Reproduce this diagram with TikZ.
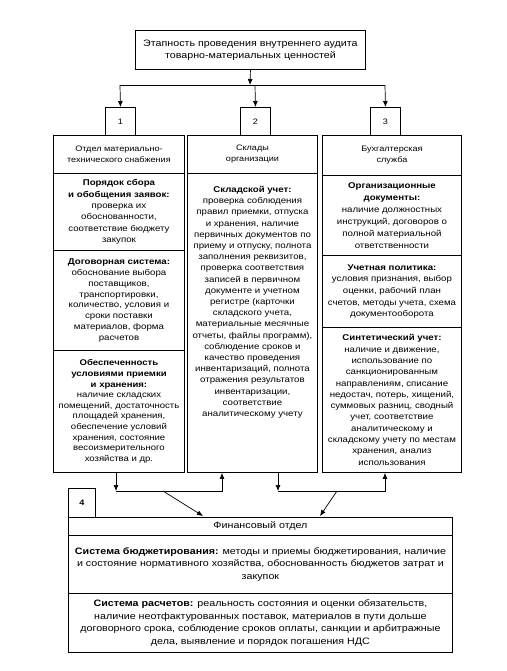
\documentclass[tikz,border=0pt]{standalone}
\usepackage{fontspec}
\setmainfont{Liberation Sans}[FakeStretch=1.15]
\usetikzlibrary{arrows.meta}
\begin{document}
\begin{tikzpicture}[x=1pt,y=1pt,
  box/.style={draw, line width=0.9pt, rectangle, anchor=north west, align=center, inner sep=1pt},
  hdrf/.style={font=\fontsize{7.9}{11}\selectfont},
  botf/.style={font=\fontsize{9.3}{12.6}\selectfont},
  arr/.style={line width=0.7pt, -{Latex[length=6pt,width=5pt]}},
  ln/.style={line width=0.7pt}]
\useasboundingbox (0,0) rectangle (506,-671);
\fill[white] (0,0) rectangle (506,-671);
% top box
\node[box, font=\fontsize{9.3}{11.8}\selectfont, minimum width=230, minimum height=39] (top) at (135,-30)
  {Этапность проведения внутреннего аудита\\товарно-материальных ценностей};
% number boxes
\node[box, hdrf, minimum width=30, minimum height=28] (n1) at (105,-107) {1};
\node[box, hdrf, minimum width=30, minimum height=28] (n2) at (240,-107) {2};
\node[box, hdrf, minimum width=30, minimum height=28] (n3) at (370,-107) {3};
% column 1
\node[box, hdrf, minimum width=131, minimum height=38] (c1h) at (53,-135)
  {Отдел материально-\\технического снабжения};
\node[box, font=\fontsize{8.4}{11.3}\selectfont, minimum width=131, minimum height=77] (c1a) at (53,-173)
  {\bfseries Порядок сбора\\\bfseries и обобщения заявок:\\\mdseries проверка их\\обоснованности,\\соответствие бюджету\\закупок};
\node[box, font=\fontsize{8.4}{10.9}\selectfont, minimum width=131, minimum height=100] (c1b) at (53,-250)
  {\bfseries Договорная система:\\\mdseries обоснование выбора\\поставщиков,\\транспортировки,\\количество, условия и\\сроки поставки\\материалов, форма\\расчетов};
\node[box, font=\fontsize{8.3}{10.6}\selectfont, minimum width=131, minimum height=122] (c1c) at (53,-350)
  {\bfseries Обеспеченность\\\bfseries условиями приемки\\\bfseries и хранения:\\\mdseries наличие складских\\помещений, достаточность\\площадей хранения,\\обеспечение условий\\хранения, состояние\\весоизмерительного\\хозяйства и др.};
% column 2
\node[box, hdrf, minimum width=130, minimum height=38] (c2h) at (187,-135)
  {Склады\\организации};
\node[box, minimum width=130, minimum height=299] (c2a) at (187,-173) {};
\node[font=\fontsize{8.4}{11.2}\selectfont, align=center, anchor=north, inner sep=0pt] (c2t) at ([yshift=-13]c2a.north)
  {\bfseries Складской учет:\\\mdseries проверка соблюдения\\правил приемки, отпуска\\и хранения, наличие\\первичных документов по\\приему и отпуску, полнота\\заполнения реквизитов,\\проверка соответствия\\записей в первичном\\документе и учетном\\регистре (карточки\\складского учета,\\материальные месячные\\отчеты, файлы программ),\\соблюдение сроков и\\качество проведения\\инвентаризаций, полнота\\отражения результатов\\инвентаризации,\\соответствие\\аналитическому учету};
% column 3
\node[box, hdrf, minimum width=139, minimum height=40] (c3h) at (322,-135)
  {Бухгалтерская\\служба};
\node[box, font=\fontsize{8.4}{12}\selectfont, minimum width=139, minimum height=80] (c3a) at (322,-175)
  {\bfseries Организационные\\\bfseries документы:\\\mdseries наличие должностных\\инструкций, договоров о\\полной материальной\\ответственности};
\node[box, font=\fontsize{8.4}{11.7}\selectfont, minimum width=139, minimum height=72] (c3b) at (322,-255)
  {\bfseries Учетная политика:\\\mdseries условия признания, выбор\\оценки, рабочий план\\счетов, методы учета, схема\\документооборота};
\node[box, font=\fontsize{8.4}{11.3}\selectfont, minimum width=139, minimum height=145] (c3c) at (322,-327)
  {\bfseries Синтетический учет:\\\mdseries наличие и движение,\\использование по\\санкционированным\\направлениям, списание\\недостач, потерь, хищений,\\суммовых разниц, сводный\\учет, соответствие\\аналитическому и\\складскому учету по местам\\хранения, анализ\\использования};
% bottom
\node[box, hdrf, minimum width=27, minimum height=29] (n4) at (68,-488) {\bfseries 4};
\node[box, font=\fontsize{9.3}{11}\selectfont, minimum width=384, minimum height=18] (fh) at (68,-517) {Финансовый отдел};
\node[box, botf, minimum width=384, minimum height=58] (fa) at (68,-535)
  {\textbf{Система бюджетирования:} методы и приемы бюджетирования, наличие\\и состояние нормативного хозяйства, обоснованность бюджетов затрат и\\закупок};
\node[box, botf, minimum width=384, minimum height=59] (fb) at (68,-593)
  {\textbf{Система расчетов:} реальность состояния и оценки обязательств,\\наличие неотфактурованных поставок, материалов в пути дольше\\договорного срока, соблюдение сроков оплаты, санкции и арбитражные\\дела, выявление и порядок погашения НДС};
% top connectors
\coordinate (tj) at (250,-85);
\coordinate (tl) at (120,-85);
\coordinate (tm) at (255,-85);
\coordinate (tr) at (385,-85);
\draw[arr] (top.south) -- (tj);
\draw[ln] (tl) -- (tr);
\draw[arr] (tl) -- (n1.north);
\draw[arr] (tm) -- (n2.north);
\draw[arr] (tr) -- (n3.north);
% bottom connectors
\coordinate (b1) at (116,-491);
\coordinate (b2) at (222,-491);
\coordinate (b3) at (278,-491);
\coordinate (b4) at (385,-491);
\coordinate (d1) at (163,-491);
\coordinate (d2) at (337,-491);
\draw[arr] (b1 |- c1c.south) -- (b1);
\draw[arr] (b1) -- (b2) -- (b2 |- c2a.south);
\draw[arr] (b3 |- c2a.south) -- (b3);
\draw[arr] (b3) -- (b4) -- (b4 |- c3c.south);
\draw[arr] (d1) -- (203,-516) coordinate (e1);
\draw[arr] (d2) -- (320,-516) coordinate (e2);
\end{tikzpicture}
\end{document}
